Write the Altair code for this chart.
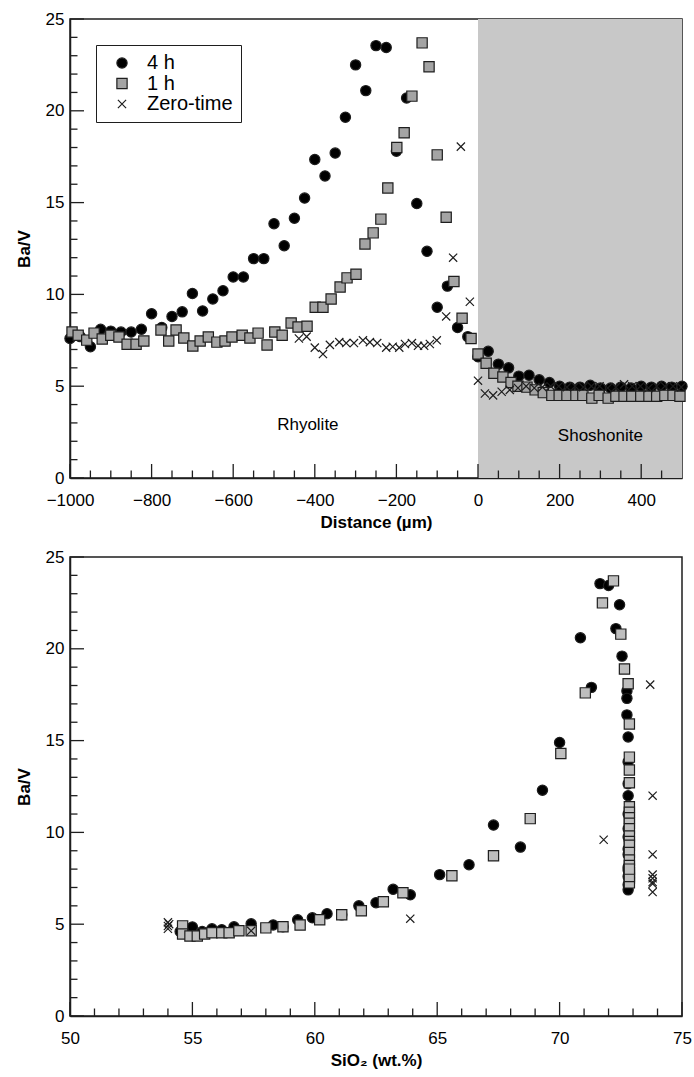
import altair as alt
import pandas as pd

FONT = "Liberation Sans"
SERIES = ["4 h", "1 h", "Zero-time"]
CROSS = "M-0.8,-0.8L0.8,0.8M-0.8,0.8L0.8,-0.8"

# ---------------- top panel: Ba/V vs distance ----------------
dist_4h = [-1000, -975, -950, -925, -900, -875, -850, -825, -800, -775, -750, -725, -700, -675,
           -650, -625, -600, -575, -550, -525, -500, -475, -450, -425, -400, -375, -350, -325,
           -300, -275, -250, -225, -200, -175, -150, -125, -100, -75, -50, -25, 0, 25, 50, 75,
           100, 125, 150, 175, 200, 225, 250, 275, 300, 325, 350, 375, 400, 425, 450, 475, 500]
bav_4h = [7.6, 7.7, 7.15, 8.1, 8.0, 7.95, 7.95, 8.1, 8.95, 8.2, 8.8, 9.05, 10.05, 9.1,
          9.75, 10.2, 10.95, 10.95, 11.95, 11.95, 13.85, 12.65, 14.15, 15.25, 17.35, 16.45, 17.7, 19.65,
          22.5, 21.1, 23.55, 23.45, 17.8, 20.7, 14.95, 12.35, 9.3, 10.45, 8.2, 7.7, 6.6, 6.9, 6.2, 6.0,
          5.55, 5.6, 5.35, 5.2, 5.0, 4.95, 4.95, 5.05, 4.9, 4.9, 4.95, 4.9, 5.0, 4.95, 5.0, 4.95, 5.0]

dist_1h = [-995, -980, -959, -941, -921, -900, -880, -860, -838, -819, -777, -758, -740, -721,
           -699, -681, -661, -640, -620, -603, -578, -559, -539, -517, -498, -480, -458, -441,
           -419, -399, -380, -360, -338, -321, -299, -277, -257, -238, -221, -199, -181, -162,
           -137, -120, -100, -78, -59, -39, -17, 0, 20, 39, 61, 81, 98, 120, 140, 160, 181,
           199, 218, 240, 257, 279, 297, 319, 338, 358, 377, 399, 419, 438, 458, 478, 495]
bav_1h = [7.95, 7.78, 7.51, 7.89, 7.57, 7.78, 7.68, 7.29, 7.29, 7.46, 8.06, 7.46, 8.06, 7.62,
          7.19, 7.46, 7.68, 7.4, 7.46, 7.68, 7.78, 7.62, 7.89, 7.24, 7.95, 7.78, 8.44, 8.22,
          8.27, 9.3, 9.3, 9.75, 10.4, 10.9, 11.1, 12.75, 13.35, 14.1, 15.8, 18.0, 18.8, 20.8,
          23.7, 22.4, 17.6, 14.2, 10.7, 8.7, 7.6, 6.75, 6.25, 5.7, 5.5, 5.2, 5.0, 4.95, 4.8, 4.65, 4.5,
          4.5, 4.5, 4.5, 4.5, 4.35, 4.5, 4.35, 4.45, 4.45, 4.45, 4.45, 4.45, 4.45, 4.5, 4.5, 4.45]

dist_0 = [-439, -420, -400, -380, -363, -340, -323, -304, -282, -265, -247, -225, -209, -193,
          -179, -162, -147, -132, -118, -101, -78, -61, -42, -20, 0, 17, 37, 58, 78, 98, 118,
          138, 158, 178, 198, 218, 238, 258, 278, 298, 318, 338, 358, 378, 398, 418, 438, 458,
          478, 498]
bav_0 = [7.6, 7.7, 7.1, 6.75, 7.25, 7.4, 7.35, 7.35, 7.5, 7.4, 7.35, 7.1, 7.15, 7.1,
         7.3, 7.35, 7.2, 7.2, 7.3, 7.5, 8.8, 12.0, 18.05, 9.6, 5.3, 4.6, 4.5, 4.7, 4.8, 4.9, 5.0,
         4.9, 4.95, 5.0, 5.0, 4.95, 5.0, 4.95, 5.0, 5.0, 4.9, 4.95, 5.1, 5.0, 5.0, 4.9, 5.0, 5.0,
         5.0, 4.95]

region_names = ["Rhyolite", "Shoshonite"]
region_x = [-417, 300]
region_y = [2.9, 2.3]
shosh_from = [0]
shosh_to = [500]

top_x_major = [-1000, -800, -600, -400, -200, 0, 200, 400]
top_x_minor = [v for v in range(-950, 500, 50) if v % 200 != 0]
y_major = [0, 5, 10, 15, 20, 25]
y_minor = [v for v in range(1, 25) if v % 5 != 0]

# ---------------- bottom panel: Ba/V vs SiO2 ----------------
sio2_4h = [54.5, 54.8, 55.0, 55.4, 55.8, 56.2, 56.7, 57.4, 58.3, 58.7, 59.3, 59.9, 60.5, 61.1,
           61.8, 62.5, 63.2, 63.9, 65.1, 66.3, 67.3, 68.4, 69.3, 70.0, 70.85, 71.3, 71.65, 72.0,
           72.45, 72.3, 72.55, 72.75, 72.75, 72.75, 72.8, 72.8, 72.8, 72.8, 72.8, 72.8, 72.8,
           72.8, 72.8, 72.8, 72.8, 72.8, 72.8, 72.8]
bav2_4h = [4.6, 4.5, 4.85, 4.6, 4.75, 4.7, 4.86, 5.02, 4.96, 4.86, 5.24, 5.35, 5.57, 5.51,
           6.0, 6.17, 6.9, 6.6, 7.7, 8.24, 10.4, 9.2, 12.3, 14.9, 20.6, 17.9, 23.55, 23.45,
           22.4, 21.1, 19.6, 17.7, 17.3, 16.4, 15.2, 13.85, 12.65, 12.0, 11.0, 10.2, 9.75, 9.1,
           8.8, 8.1, 7.95, 7.6, 7.15, 6.87]

sio2_1h = [54.6, 54.6, 54.9, 55.2, 55.5, 55.8, 56.2, 56.5, 56.9, 57.4, 58.0, 58.7, 59.4, 60.2,
           61.1, 61.9, 62.8, 63.6, 65.6, 67.3, 68.8, 70.05, 71.05, 71.75, 72.2, 72.5, 72.65, 72.8,
           72.85, 72.85, 72.85, 72.85, 72.85, 72.85, 72.85, 72.85, 72.85, 72.85, 72.85, 72.85,
           72.85, 72.85, 72.85, 72.85, 72.85, 72.85, 72.85, 72.85]
bav2_1h = [4.91, 4.47, 4.36, 4.36, 4.47, 4.53, 4.53, 4.53, 4.64, 4.64, 4.8, 4.86, 4.96, 5.24,
           5.51, 5.73, 6.22, 6.71, 7.64, 8.73, 10.75, 14.3, 17.6, 22.5, 23.7, 20.8, 18.9, 18.1,
           15.9, 14.1, 13.4, 12.7, 11.4, 11.1, 10.8, 10.5, 10.2, 9.8, 9.5, 9.3, 8.9, 8.5,
           8.2, 7.8, 7.5, 7.25, 7.6, 8.0]

sio2_0 = [54.0, 54.0, 54.0, 54.05, 57.4, 63.9, 71.8, 73.7, 73.8, 73.8, 73.8, 73.8, 73.8, 73.8, 73.8]
bav2_0 = [5.1, 4.9, 4.75, 5.0, 4.64, 5.3, 9.6, 18.05, 12.0, 8.8, 7.7, 7.5, 7.3, 7.2, 6.75]

bot_x_major = [50, 55, 60, 65, 70, 75]
bot_x_minor = [v for v in range(51, 75) if v % 5 != 0]

W, H = 612, 459
INK = "#1e1e1e"


def frame(xs, ys, series):
    return pd.DataFrame({"x": xs, "y": ys, "series": series})


top_df = pd.concat([frame(dist_4h, bav_4h, "4 h"),
                    frame(dist_1h, bav_1h, "1 h"),
                    frame(dist_0, bav_0, "Zero-time")], ignore_index=True)
top_df["order"] = range(len(top_df))

bot_df = pd.concat([frame(sio2_4h, bav2_4h, "4 h"),
                    frame(sio2_1h, bav2_1h, "1 h"),
                    frame(sio2_0, bav2_0, "Zero-time")], ignore_index=True)
bot_df["order"] = range(len(bot_df))

y_scale = alt.Scale(domain=[0, 25], nice=False, zero=False)


def y_axis():
    return alt.Axis(values=y_major, title="Ba/V", grid=False, ticks=False, labelPadding=6,
                    labelFontSize=17, labelFont=FONT, labelColor="black", format="d",
                    titleFont=FONT, titleFontSize=17, titleFontWeight="bold", titleColor="black",
                    titlePadding=12, domainColor=INK, domainWidth=1.5, labelOverlap=False)


def x_axis(values, title):
    return alt.Axis(values=values, title=title, grid=False, ticks=False, labelPadding=14,
                    labelFontSize=17, labelFont=FONT, labelColor="black", labelFlush=False,
                    format="d", labelOverlap=False, titleFont=FONT, titleFontSize=17,
                    titleFontWeight="bold", titleColor="black", titlePadding=6,
                    domainColor=INK, domainWidth=1.5)


def tick_layers(xvals_major, xvals_minor, x_scale, xax):
    layers = []
    for vals, length in ((xvals_major, 14), (xvals_minor, 7.5)):
        layers.append(alt.Chart(pd.DataFrame({"v": vals})).mark_rule(color=INK, strokeWidth=1.3).encode(
            x=alt.X("v:Q", scale=x_scale, axis=xax),
            y=alt.value(H), y2=alt.value(H - length)))
    for vals, length in ((y_major, 14), (y_minor, 7.5)):
        layers.append(alt.Chart(pd.DataFrame({"v": vals})).mark_rule(color=INK, strokeWidth=1.3).encode(
            y=alt.Y("v:Q", scale=y_scale, axis=y_axis()),
            x=alt.value(0), x2=alt.value(length)))
    return layers


def points(df, x_scale, xax, square_fill, legend):
    return alt.Chart(df).mark_point(filled=True, size=105, strokeWidth=1.2, opacity=1).encode(
        x=alt.X("x:Q", scale=x_scale, axis=xax),
        y=alt.Y("y:Q", scale=y_scale, axis=y_axis()),
        fill=alt.Fill("series:N", scale=alt.Scale(domain=SERIES, range=["black", square_fill, "black"]),
                      legend=legend),
        shape=alt.Shape("series:N", scale=alt.Scale(domain=SERIES, range=["circle", "square", CROSS]),
                        legend=legend),
        stroke=alt.Stroke("series:N", scale=alt.Scale(domain=SERIES, range=[INK, INK, INK]),
                          legend=legend),
        order=alt.Order("order:Q"),
    )


top_x_scale = alt.Scale(domain=[-1000, 500], nice=False, zero=False)
top_xax = x_axis(top_x_major, "Distance (µm)")
legend = alt.Legend(title=None, orient="none", legendX=26, legendY=26, fillColor="white",
                    strokeColor=INK, padding=8, labelFontSize=20, labelFont=FONT,
                    labelColor="black", symbolSize=105, symbolStrokeWidth=1.2,
                    labelOffset=15, rowPadding=0.5, symbolOffset=8)

shosh = alt.Chart(pd.DataFrame({"a": shosh_from, "b": shosh_to})).mark_rect(color="#c8c8c8").encode(
    x=alt.X("a:Q", scale=top_x_scale, axis=top_xax), x2="b:Q",
    y=alt.value(0), y2=alt.value(H))

region_text = alt.Chart(pd.DataFrame({"x": region_x, "y": region_y, "t": region_names})).mark_text(
    font=FONT, fontSize=17, color="black").encode(
    x=alt.X("x:Q", scale=top_x_scale, axis=top_xax),
    y=alt.Y("y:Q", scale=y_scale, axis=y_axis()), text="t:N")

top = alt.layer(
    shosh,
    *tick_layers(top_x_major, top_x_minor, top_x_scale, top_xax),
    region_text,
    points(top_df, top_x_scale, top_xax, "#a4a4a4", legend),
).properties(width=W, height=H)

bot_x_scale = alt.Scale(domain=[50, 75], nice=False, zero=False)
bot_xax = x_axis(bot_x_major, "SiO₂ (wt.%)")
bottom = alt.layer(
    *tick_layers(bot_x_major, bot_x_minor, bot_x_scale, bot_xax),
    points(bot_df, bot_x_scale, bot_xax, "#bebebe", None),
).properties(width=W, height=H)

chart = alt.vconcat(top, bottom, spacing=16).resolve_scale(
    fill="independent", shape="independent", stroke="independent"
).properties(
    padding={"left": 14, "top": 9, "right": 0, "bottom": 2}
).configure_view(stroke=INK, strokeWidth=1.5)

chart.save("out.html", embed_options={"renderer": "svg", "actions": False})
